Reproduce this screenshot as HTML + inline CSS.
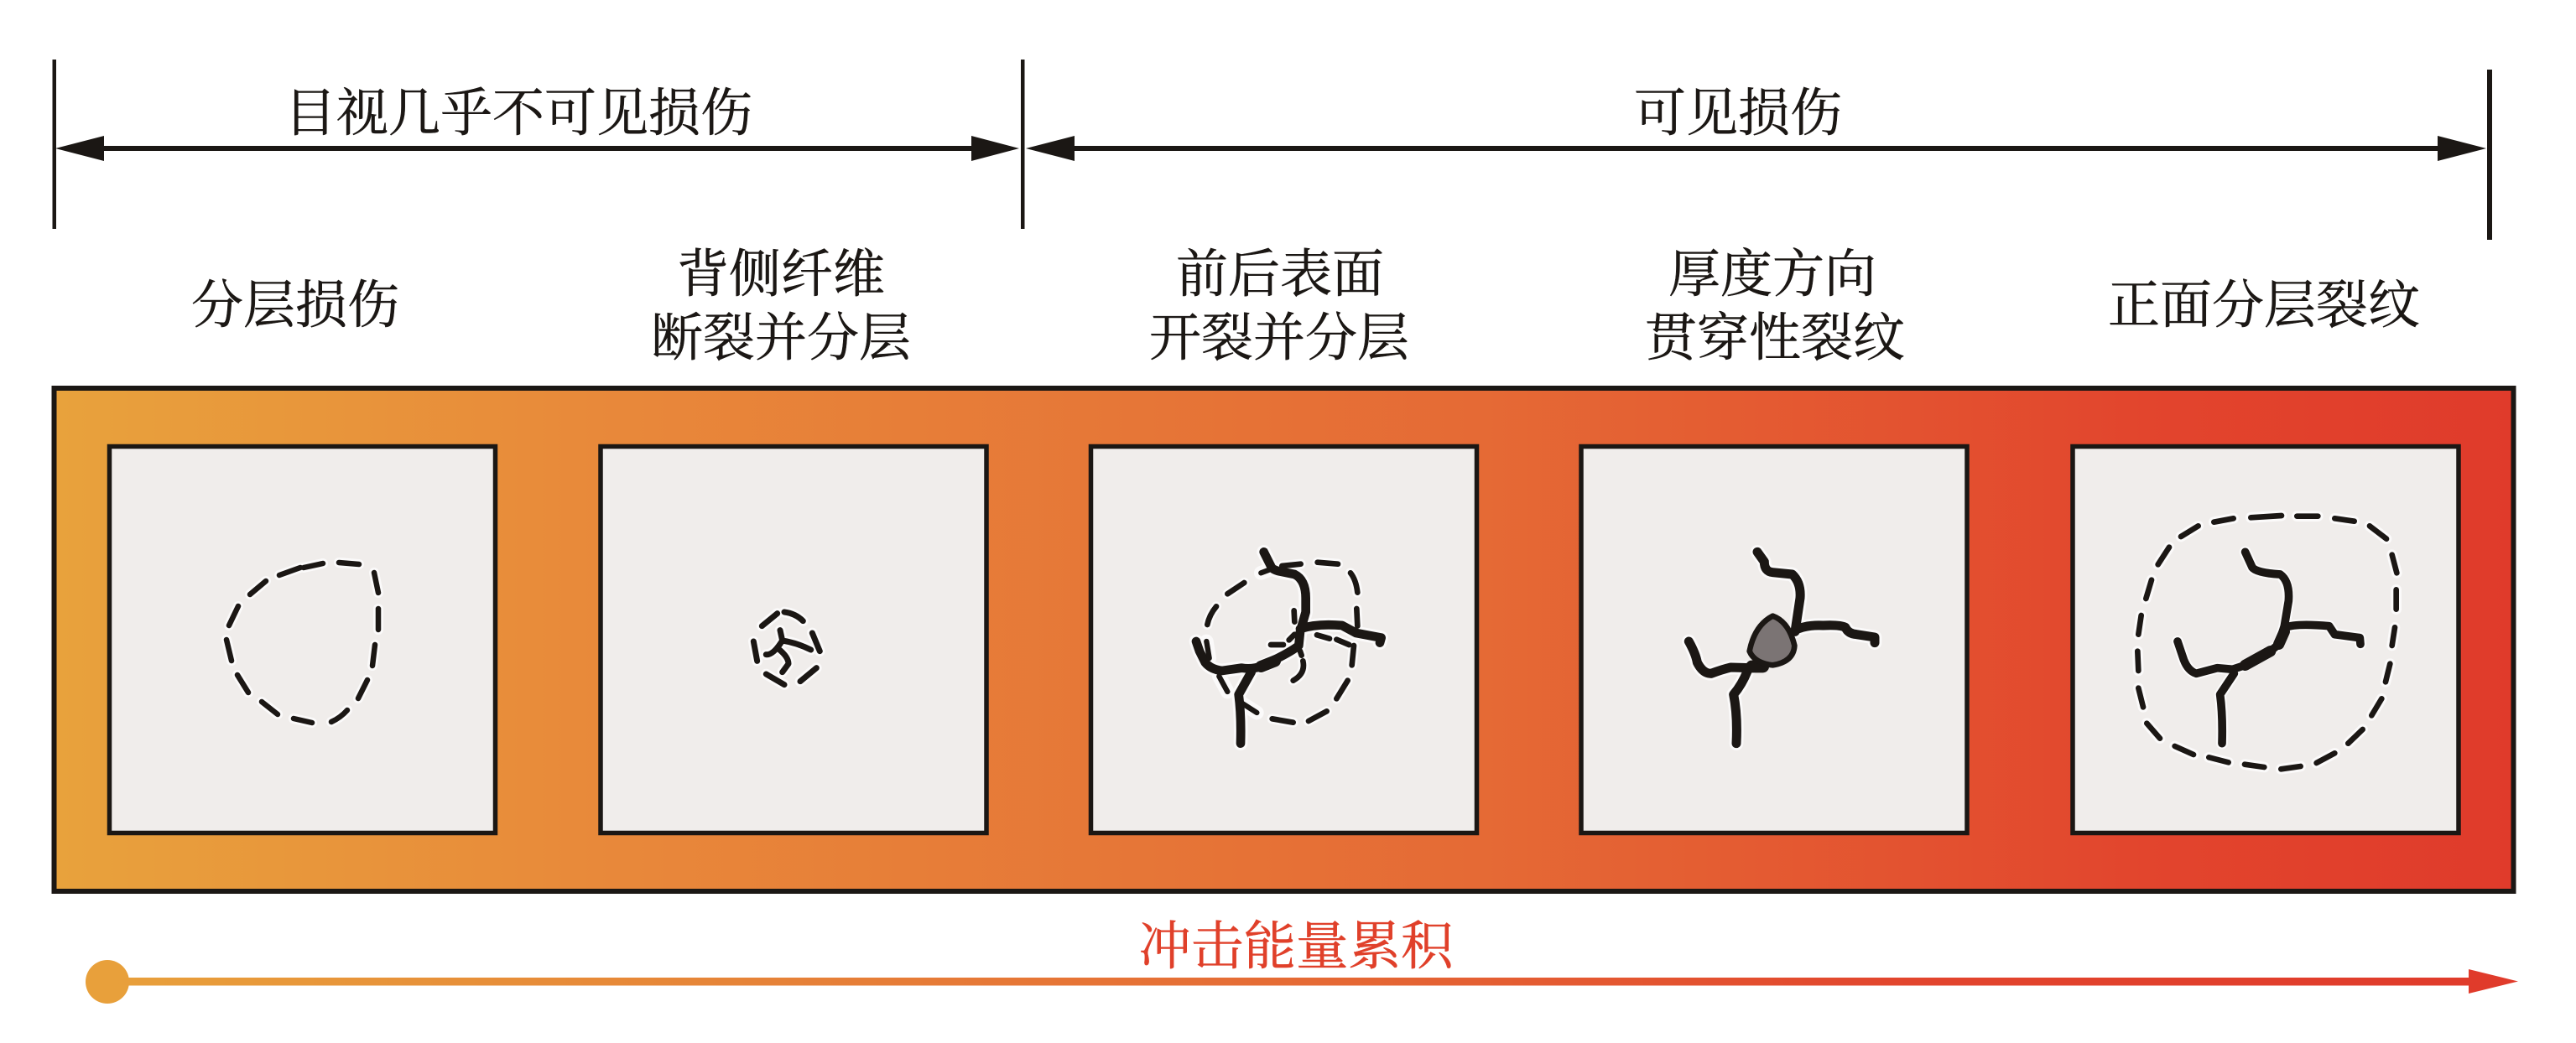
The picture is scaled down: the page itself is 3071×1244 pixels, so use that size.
<!DOCTYPE html>
<html><head><meta charset="utf-8"><style>
html,body{margin:0;padding:0;background:#fff}
svg{display:block}
text{font-family:"Liberation Serif","Noto Serif CJK SC",serif;font-size:62px;fill:#1b1714;stroke:#1b1714;stroke-width:.5px;text-anchor:middle}
.h{fill:none;stroke:#fbfafa;stroke-linecap:round;stroke-linejoin:round}
.k{fill:none;stroke:#1b1714;stroke-linecap:round;stroke-linejoin:round}
</style></head><body>
<svg width="3071" height="1244" viewBox="0 0 3071 1244" xmlns="http://www.w3.org/2000/svg">
<defs>
<linearGradient id="g" x1="0" x2="1" y1="0" y2="0">
<stop offset="0" stop-color="#e8a23c"/><stop offset=".22" stop-color="#e8893a"/><stop offset=".58" stop-color="#e56a35"/><stop offset=".85" stop-color="#e2452d"/><stop offset="1" stop-color="#e03b2b"/>
</linearGradient>
<linearGradient id="a" gradientUnits="userSpaceOnUse" x1="127" x2="2990" y1="0" y2="0">
<stop offset="0" stop-color="#e8a03b"/><stop offset=".5" stop-color="#e56a35"/><stop offset=".75" stop-color="#e2452d"/><stop offset="1" stop-color="#e03b2b"/>
</linearGradient>
</defs>
<rect width="3071" height="1244" fill="#fff"/>

<!-- top brackets -->
<g fill="#1b1714">
<rect x="62.500" y="71" width="4.500" height="202"/>
<rect x="1217" y="71" width="4.500" height="202"/>
<rect x="2965" y="83" width="6" height="203"/>
<rect x="120" y="174" width="1042" height="6"/>
<rect x="1278" y="174" width="1632" height="6"/>
<polygon points="66,177 124,162 124,192"/>
<polygon points="1215,177 1158,162 1158,192"/>
<polygon points="1223,177 1281,162 1281,192"/>
<polygon points="2964,177 2906,162 2906,192"/>
</g>
<text x="618" y="156">目视几乎不可见损伤</text>
<text x="2072" y="156">可见损伤</text>
<text x="352" y="385">分层损伤</text>
<text x="931" y="348">背侧纤维</text>
<text x="931" y="424">断裂并分层</text>
<text x="1526" y="348">前后表面</text>
<text x="1525" y="424">开裂并分层</text>
<text x="2113" y="348">厚度方向</text>
<text x="2116" y="424">贯穿性裂纹</text>
<text x="2699" y="385">正面分层裂纹</text>

<!-- panel -->
<rect x="64.500" y="463" width="2932" height="600" fill="url(#g)" stroke="#1b1714" stroke-width="6"/>
<g fill="#f0edeb" stroke="#1b1714" stroke-width="5.500">
<rect x="130.500" y="532.500" width="460" height="461"/>
<rect x="716" y="532.500" width="460" height="461"/>
<rect x="1300.500" y="532.500" width="460" height="461"/>
<rect x="1885" y="532.500" width="460" height="461"/>
<rect x="2471" y="532.500" width="460" height="461"/>
</g>

<!-- box 1 -->
<g>
<path class="h" stroke-width="12" d="M404,671L428,673M446,683L451,707M451,726L451,751M447,769L444,794M438,811L427,833M414,847Q406,856 395,861M372,862L350,857M331,852L312,837M296,826L283,805M276,788L270,763M273,746L284,723M298,709L317,693M333,686L358,677M362,677L385,672"/>
<path class="k" stroke-width="6.500" d="M404,671L428,673M446,683L451,707M451,726L451,751M447,769L444,794M438,811L427,833M414,847Q406,856 395,861M372,862L350,857M331,852L312,837M296,826L283,805M276,788L270,763M273,746L284,723M298,709L317,693M333,686L358,677M362,677L385,672"/>
</g>

<!-- box 2 -->
<g transform="translate(850,620) scale(.33333)">
<path class="h" stroke-width="38" d="M175,380L230,335M255,330Q295,335 322,362M355,405L382,470M370,530L312,578M255,590L190,552M158,505L145,435M240,395L248,432M190,482Q215,485 248,432Q300,440 350,465M232,460Q270,490 270,515L248,545"/>
<path class="k" stroke-width="21" d="M175,380L230,335M255,330Q295,335 322,362M355,405L382,470M370,530L312,578M255,590L190,552M158,505L145,435M240,395L248,432M190,482Q215,485 248,432Q300,440 350,465M232,460Q270,490 270,515L248,545"/>
</g>

<!-- box 3 -->
<g transform="translate(1340,620) scale(.33333)">
<path class="h" stroke-width="36" d="M370,265L430,225M298,375Q305,340 330,310M565,165L632,158M692,152L765,158M810,190Q830,215 835,260M832,318L835,380M525,447L570,447M608,325L610,365M690,412L735,425M760,428L805,447M822,450L815,520M800,575L760,640M725,685L660,720M605,725L530,712M605,575Q650,550 640,505M610,410L590,430M630,470L635,485"/>
<path class="h" stroke-width="50" d="M500,115L525,165Q530,180 560,185L610,195Q650,215 650,280L650,330L630,400L625,450Q600,470 540,500Q480,540 420,530L350,540Q310,535 290,510L270,470L258,435M490,190L530,175M295,435L305,495M630,390Q690,370 780,378L830,405L920,422L915,440M455,545L410,625Q420,700 417,800M340,560L370,615M420,655L475,690"/>
<path class="k" stroke-width="20" d="M370,265L430,225M298,375Q305,340 330,310M565,165L632,158M692,152L765,158M810,190Q830,215 835,260M832,318L835,380M525,447L570,447M608,325L610,365M690,412L735,425M760,428L805,447M822,450L815,520M800,575L760,640M725,685L660,720M605,725L530,712M605,575Q650,550 640,505M610,410L590,430M630,470L635,485"/>
<path class="k" stroke-width="32" d="M500,115L525,165Q530,180 560,185L610,195Q650,215 650,280L650,330L630,400L625,450Q600,470 540,500Q480,540 420,530L350,540Q310,535 290,510L270,470L258,435M630,390Q690,370 780,378L830,405L920,422L915,440M455,545L410,625Q420,700 417,800"/>
<path class="k" stroke-width="19" d="M490,190L530,175M295,435L305,495M340,560L370,615M420,655L475,690"/>
<path class="k" stroke-width="42" d="M490,525L540,505"/>
</g>

<!-- box 4 -->
<g transform="translate(1960,620) scale(.33333)">
<path class="h" stroke-width="50" d="M405,115L430,150Q430,185 460,188L530,195Q562,225 558,280L540,400M540,395Q580,375 640,378Q700,375 720,385Q730,408 760,410L825,420L825,440M160,435Q185,480 190,510Q210,550 240,550Q280,535 310,528L380,530M370,540Q350,590 320,625Q335,700 330,800"/>
<path class="k" stroke-width="33" d="M405,115L430,150Q430,185 460,188L530,195Q562,225 558,280L540,400M540,395Q580,375 640,378Q700,375 720,385Q730,408 760,410L825,420L825,440M160,435Q185,480 190,510Q210,550 240,550Q280,535 310,528L380,530M370,540Q350,590 320,625Q335,700 330,800"/>
<path class="k" stroke-width="44" d="M385,525L425,525"/>
<path d="M460,344Q518,365 538,450Q535,508 460,520Q395,513 377,470Q395,378 460,344Z" fill="#7b7474" stroke="#1b1714" stroke-width="20" stroke-linejoin="round"/>
</g>

<!-- box 5 -->
<g transform="translate(2520,590) scale(.33333)">
<path class="h" stroke-width="38" d="M490,82L600,75M655,77L730,77M790,85L860,95M915,112L975,158M995,215L1012,280M1010,340L1010,410M1005,475L995,540M988,605L972,670M958,730L922,790M890,840L838,890M790,925L725,960M668,972L598,982M538,975L468,965M410,958L340,940M285,930L218,900M165,872L118,818M105,760L88,692M88,630L85,560M88,500L98,432M115,372L135,305M158,250L198,188M240,150L302,112M358,98L428,85"/>
<path class="h" stroke-width="42" d="M470,205L495,260Q510,280 595,285Q625,310 625,380L610,470L590,535L560,560L470,610L425,625L370,620L295,640Q265,630 250,590L228,525M615,475Q650,460 770,470L790,500L880,512L882,535M430,640L380,715Q390,790 387,890"/>
<path class="k" stroke-width="20" d="M490,82L600,75M655,77L730,77M790,85L860,95M915,112L975,158M995,215L1012,280M1010,340L1010,410M1005,475L995,540M988,605L972,670M958,730L922,790M890,840L838,890M790,925L725,960M668,972L598,982M538,975L468,965M410,958L340,940M285,930L218,900M165,872L118,818M105,760L88,692M88,630L85,560M88,500L98,432M115,372L135,305M158,250L198,188M240,150L302,112M358,98L428,85"/>
<path class="k" stroke-width="29" d="M470,205L495,260Q510,280 595,285Q630,310 625,380L610,470L590,535L560,560L470,610L425,625L370,620L295,640Q265,630 250,590L228,525M615,475Q650,460 770,470L790,500L880,512L882,535M430,640L380,715Q390,790 387,890"/>
<path class="k" stroke-width="40" d="M470,610L560,560M590,535L610,490"/>
</g>

<!-- bottom arrow -->
<text x="1545" y="1150" style="fill:#e0402a;stroke:#e0402a;font-size:62.500px">冲击能量累积</text>
<circle cx="128" cy="1171" r="26" fill="#e8a03b"/>
<rect x="130" y="1166" width="2815" height="9.500" fill="url(#a)"/>
<polygon points="3002,1170.500 2943,1156 2943,1185" fill="#e03b2b"/>
</svg>
</body></html>
